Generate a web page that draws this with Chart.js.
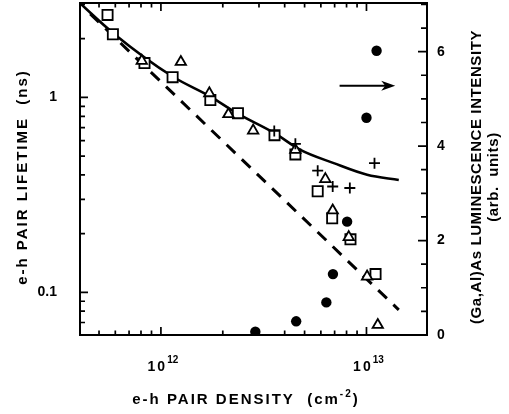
<!DOCTYPE html>
<html><head><meta charset="utf-8">
<script src="https://cdn.jsdelivr.net/npm/chart.js@4/dist/chart.umd.min.js"></script>
<style>html,body{margin:0;padding:0;background:#fff}</style>
</head><body>
<canvas id="c" width="509" height="414"></canvas>
<script>
// ---- data ----
const squareDensity   = [5.50e11, 5.84e11, 8.32e11, 1.14e12, 1.74e12, 2.37e12, 3.57e12, 4.51e12, 5.79e12, 6.81e12, 8.36e12, 1.107e13];
const squareLifetime  = [2.65, 2.11, 1.50, 1.27, 0.97, 0.83, 0.64, 0.51, 0.33, 0.24, 0.187, 0.124];
const triangleDensity = [8.07e11, 1.25e12, 1.72e12, 2.13e12, 2.81e12, 4.51e12, 6.31e12, 6.85e12, 8.20e12, 1.007e13, 1.135e13];
const triangleLifetime= [1.54, 1.52, 1.05, 0.82, 0.676, 0.538, 0.381, 0.263, 0.192, 0.1205, 0.068];
const plusDensity     = [3.56e12, 4.51e12, 5.79e12, 6.85e12, 8.30e12, 1.094e13];
const plusLifetime    = [0.673, 0.578, 0.421, 0.349, 0.343, 0.460];
const circleDensity   = [2.88e12, 4.55e12, 6.38e12, 6.87e12, 8.05e12, 1.0e13, 1.12e13];
const circleIntensity = [0.07, 0.29, 0.69, 1.29, 2.40, 4.60, 6.02];
const fitDensity      = [4.04e11, 5.88e11, 1.14e12, 1.74e12, 2.34e12, 3.57e12, 4.77e12, 6.93e12, 1.007e13, 1.436e13];
const fitLifetime     = [3.04, 2.13, 1.28, 1.01, 0.83, 0.655, 0.538, 0.46, 0.401, 0.377];
const dashDensity     = [4.53e11, 1.436e13];
const dashLifetime    = [2.68, 0.0813];
const xTickValues  = [5e11,6e11,7e11,8e11,9e11,1e12,2e12,3e12,4e12,5e12,6e12,7e12,8e12,9e12,1e13];
const yTickValues  = [0.07,0.08,0.09,0.1,0.2,0.3,0.4,0.5,0.6,0.7,0.8,0.9,1,2,3];
const y2TickValues = [0,0.5,1,1.5,2,2.5,3,3.5,4,4.5,5,5.5,6,6.5,7];
const xTickLabels  = {'12':['10','12'],'13':['10','13']};
const yTickLabels  = {'-1':'0.1','0':'1'};
const y2TickLabels = [0,2,4,6];
const arrowFrom = [7.4e12, 5.28], arrowTo = [1.38e13, 5.28];
const xTitle = ['e-h PAIR DENSITY  (cm', '-2', ')'];
const yTitle = 'e-h PAIR LIFETIME  (ns)';
const y2Title = ['(Ga,Al)As LUMINESCENCE INTENSITY', '(arb.  units)'];

const FONT = '"Liberation Sans", Arial, Helvetica, sans-serif';
const pts = (xs, ys) => xs.map((x, i) => ({x, y: ys[i]}));
const isPow10 = v => Math.abs(Math.log10(v) - Math.round(Math.log10(v))) < 1e-9;
const noPad = s => { s.paddingTop = 0; s.paddingBottom = 0; s.paddingLeft = 0; s.paddingRight = 0; };

const decor = {
  id: 'decor',
  afterDraw(chart) {
    const {ctx, chartArea: a, scales} = chart;
    const xs = scales.x, ys = scales.y, y2 = scales.y2;
    ctx.save();
    ctx.strokeStyle = '#000';
    ctx.fillStyle = '#000';
    ctx.lineWidth = 2;
    ctx.strokeRect(a.left, a.top, a.right - a.left, a.bottom - a.top);
    ctx.lineWidth = 1.7;
    ctx.beginPath();
    xs.ticks.forEach(t => {
      const p = xs.getPixelForValue(t.value);
      const len = isPow10(t.value) ? 8 : 4.5;
      ctx.moveTo(p, a.bottom); ctx.lineTo(p, a.bottom - len);
      ctx.moveTo(p, a.top); ctx.lineTo(p, a.top + len);
    });
    ys.ticks.forEach(t => {
      const p = ys.getPixelForValue(t.value);
      const len = isPow10(t.value) ? 8 : 5;
      ctx.moveTo(a.left, p); ctx.lineTo(a.left + len, p);
    });
    y2.ticks.forEach(t => {
      const p = y2.getPixelForValue(t.value);
      const len = y2TickLabels.includes(t.value) ? 9 : 6;
      ctx.moveTo(a.right, p); ctx.lineTo(a.right - len, p);
    });
    ctx.stroke();
    // x tick labels with superscript exponents
    ctx.textBaseline = 'middle';
    ctx.textAlign = 'left';
    xs.ticks.forEach(t => {
      if (!isPow10(t.value)) return;
      const lab = xTickLabels[String(Math.round(Math.log10(t.value)))];
      if (!lab) return;
      const p = xs.getPixelForValue(t.value);
      ctx.letterSpacing = '2px';
      ctx.font = 'bold 14px ' + FONT;
      const wb = ctx.measureText(lab[0]).width;
      ctx.letterSpacing = '0px';
      ctx.font = 'bold 10px ' + FONT;
      const we = ctx.measureText(lab[1]).width;
      const x0 = p + 2 - (wb + we) / 2;
      ctx.letterSpacing = '2px';
      ctx.font = 'bold 14px ' + FONT;
      ctx.fillText(lab[0], x0, 367);
      ctx.letterSpacing = '0px';
      ctx.font = 'bold 10px ' + FONT;
      ctx.fillText(lab[1], x0 + wb, 360);
    });
    // arrow
    const ax0 = xs.getPixelForValue(arrowFrom[0]), ay = y2.getPixelForValue(arrowFrom[1]);
    const ax1 = xs.getPixelForValue(arrowTo[0]);
    ctx.lineWidth = 2;
    ctx.beginPath(); ctx.moveTo(ax0, ay); ctx.lineTo(ax1 - 6, ay); ctx.stroke();
    ctx.beginPath(); ctx.moveTo(ax1, ay); ctx.lineTo(ax1 - 14, ay - 5); ctx.lineTo(ax1 - 10, ay); ctx.lineTo(ax1 - 14, ay + 5); ctx.closePath(); ctx.fill();
    // axis titles
    ctx.letterSpacing = '2px';
    ctx.font = 'bold 15px ' + FONT;
    const w0 = ctx.measureText(xTitle[0]).width;
    ctx.font = 'bold 10px ' + FONT;
    const w1 = ctx.measureText(xTitle[1]).width;
    ctx.font = 'bold 15px ' + FONT;
    const w2 = ctx.measureText(xTitle[2]).width;
    const tx = 246 - (w0 + w1 + w2) / 2;
    const ty = 400;
    ctx.textAlign = 'left';
    ctx.fillText(xTitle[0], tx, ty);
    ctx.font = 'bold 10px ' + FONT;
    ctx.fillText(xTitle[1], tx + w0, ty - 6);
    ctx.font = 'bold 15px ' + FONT;
    ctx.fillText(xTitle[2], tx + w0 + w1, ty);
    ctx.textAlign = 'center';
    ctx.save();
    ctx.translate(23, 177); ctx.rotate(-Math.PI / 2);
    ctx.fillText(yTitle, 0, 0);
    ctx.restore();
    ctx.letterSpacing = '0.6px';
    ctx.save();
    ctx.translate(477, 177); ctx.rotate(-Math.PI / 2);
    ctx.fillText(y2Title[0], 0, 0);
    ctx.fillText(y2Title[1], 0, 17);
    ctx.restore();
    ctx.restore();
  }
};

const tickFont = {family: FONT, size: 14, weight: 'bold'};
new Chart(document.getElementById('c'), {
  type: 'scatter',
  data: {
    datasets: [
      {data: pts(fitDensity, fitLifetime), showLine: true, borderColor: '#000', borderWidth: 2.6, pointRadius: 0, cubicInterpolationMode: 'monotone', yAxisID: 'y', order: 5},
      {data: pts(dashDensity, dashLifetime), showLine: true, borderColor: '#000', borderWidth: 3, borderDash: [12, 9], pointRadius: 0, yAxisID: 'y', order: 5},
      {data: pts(squareDensity, squareLifetime), pointStyle: 'rect', pointRadius: 7.2, backgroundColor: '#fff', borderColor: '#000', borderWidth: 1.8, yAxisID: 'y', order: 3},
      {data: pts(triangleDensity, triangleLifetime), pointStyle: 'triangle', pointRadius: 6, backgroundColor: '#fff', borderColor: '#000', borderWidth: 1.8, yAxisID: 'y', order: 2},
      {data: pts(plusDensity, plusLifetime), pointStyle: 'cross', pointRadius: 5.5, backgroundColor: '#000', borderColor: '#000', borderWidth: 1.8, yAxisID: 'y', order: 1},
      {data: pts(circleDensity, circleIntensity), pointStyle: 'circle', pointRadius: 5.2, backgroundColor: '#000', borderColor: '#000', borderWidth: 0, yAxisID: 'y2', order: 1}
    ]
  },
  options: {
    responsive: false,
    animation: false,
    devicePixelRatio: 1,
    layout: {autoPadding: false, padding: {top: 3, left: 0, right: 0, bottom: 0}},
    plugins: {legend: {display: false}, tooltip: {enabled: false}},
    scales: {
      x: {
        type: 'logarithmic', position: 'bottom', min: 4.04e11, max: 1.97e13,
        afterBuildTicks: s => { s.ticks = xTickValues.map(v => ({value: v, major: isPow10(v)})); },
        afterFit: s => { s.height = 79; noPad(s); },
        grid: {display: false, drawTicks: false}, border: {display: false},
        ticks: {autoSkip: false, maxRotation: 0, minRotation: 0, padding: 0, color: '#000', font: tickFont,
          callback: () => ''}
      },
      y: {
        type: 'logarithmic', position: 'left', min: 0.0604, max: 3.05,
        afterBuildTicks: s => { s.ticks = yTickValues.map(v => ({value: v, major: isPow10(v)})); },
        afterFit: s => { s.width = 80; noPad(s); },
        grid: {display: false, drawTicks: false}, border: {display: false},
        ticks: {autoSkip: false, padding: 23, color: '#000', font: tickFont,
          callback: v => isPow10(v) ? (yTickLabels[String(Math.round(Math.log10(v)))] || '') : ''}
      },
      y2: {
        type: 'linear', position: 'right', min: 0, max: 7.03,
        afterBuildTicks: s => { s.ticks = y2TickValues.map(v => ({value: v})); },
        afterFit: s => { s.width = 82; noPad(s); },
        grid: {display: false, drawTicks: false}, border: {display: false},
        ticks: {autoSkip: false, padding: 10, color: '#000', font: tickFont,
          callback: v => y2TickLabels.includes(v) ? String(v) : ''}
      }
    }
  },
  plugins: [decor]
});
</script>
</body></html>
